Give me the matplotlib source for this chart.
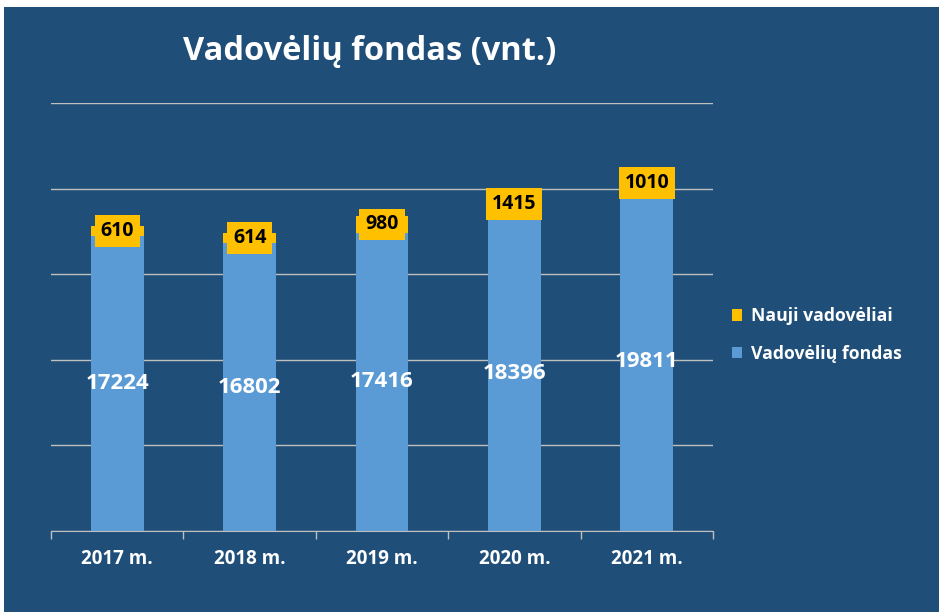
import matplotlib.pyplot as plt
from matplotlib.patches import Rectangle

years = ["2017 m.", "2018 m.", "2019 m.", "2020 m.", "2021 m."]
fondas = [17224, 16802, 17416, 18396, 19811]
nauji = [610, 614, 980, 1415, 1010]

bg = "#1F4E79"
blue = "#5B9BD5"
gold = "#FFC000"
font = "Open Sans"

fig = plt.figure(figsize=(9.4, 6.13), dpi=100, facecolor="white")
fig.patches.append(Rectangle((4/940, 1/613), 935/940, 605/613,
                             transform=fig.transFigure, facecolor=bg,
                             edgecolor="none", zorder=-10))

ax = fig.add_axes([51/940, 1 - 531/613, 662/940, 428/613])
ax.set_facecolor("none")

x = range(len(years))
b1 = ax.bar(x, fondas, width=0.4, color=blue, zorder=2)
b2 = ax.bar(x, nauji, width=0.4, bottom=fondas, color=gold, zorder=2)

for i in x:
    ax.text(i, fondas[i] / 2, str(fondas[i]), ha="center", va="center",
            color="white", fontsize=16, fontweight="bold", family=font, zorder=4)
    ax.text(i, fondas[i] + nauji[i] / 2, str(nauji[i]), ha="center", va="center",
            color="black", fontsize=14, fontweight="bold", family=font, zorder=4,
            bbox=dict(boxstyle="square,pad=0.3", facecolor=gold, edgecolor="none"))

ax.set_xlim(-0.5, 4.5)
ax.set_ylim(0, 25000)
ax.set_yticks(range(0, 25001, 5000))
ax.yaxis.grid(True, color="#BFBFBF", linewidth=1, zorder=1)
ax.tick_params(axis="y", length=0, labelleft=False)

ax.set_xticks(list(x))
ax.set_xticklabels(years, color="white", fontsize=13.5, fontweight="bold", family=font)
ax.tick_params(axis="x", length=0, pad=13)
ax.set_xticks([i - 0.5 for i in range(len(years) + 1)], minor=True)
ax.tick_params(axis="x", which="minor", length=6, color="#BFBFBF", width=1)

for s in ["top", "right", "left"]:
    ax.spines[s].set_visible(False)
ax.spines["bottom"].set_color("#BFBFBF")
ax.spines["bottom"].set_zorder(3)

fig.text(370/940, 1 - 52/613, "Vadovėlių fondas (vnt.)", ha="center", va="center",
         color="white", fontsize=23.5, fontweight="bold", family=font)

ax.legend([b2, b1], ["Nauji vadovėliai", "Vadovėlių fondas"],
          loc="center left", bbox_to_anchor=(716/940, 1 - 335/613),
          bbox_transform=fig.transFigure, frameon=False, handlelength=0.6,
          handleheight=0.6, handletextpad=0.5, labelspacing=1.1,
          prop=dict(family=font, weight="bold", size=12.7), labelcolor="white")

fig.savefig("out.png", dpi=100, facecolor="white")
